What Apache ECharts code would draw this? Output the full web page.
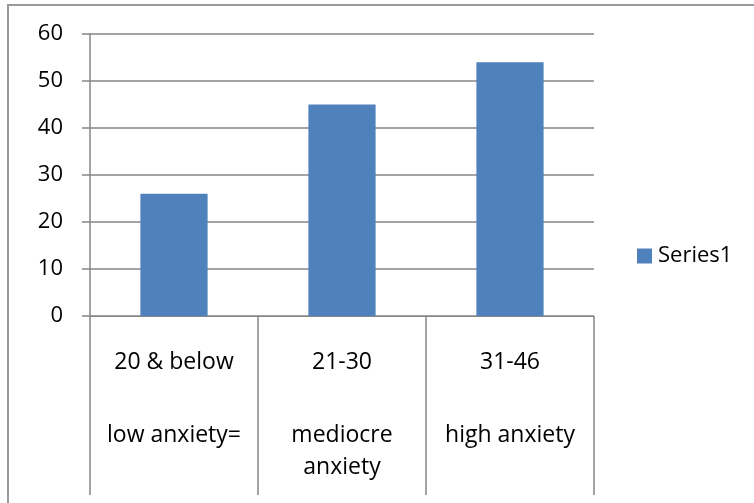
<!DOCTYPE html>
<html>
<head>
<meta charset="utf-8">
<script src="https://cdn.jsdelivr.net/npm/echarts@6/dist/echarts.min.js"></script>
<style>
  html, body { margin: 0; padding: 0; background: #fff; }
  #chart { width: 754px; height: 503px; }
</style>
</head>
<body>
<div id="chart"></div>
<script>
// Anxiety score groups and respondent counts
const rangeLabels = ['20 & below', '21-30', '31-46'];
const levelLabels = ['low anxiety=', 'mediocre\nanxiety', 'high anxiety'];
const counts = [26, 45, 54];
const seriesName = 'Series1';
const yTicks = { min: 0, max: 60, interval: 10 };

const axisGray = '#868686';
const font = 'Open Sans';

const categories = rangeLabels.map((r, i) => r + '||' + levelLabels[i]);

const chart = echarts.init(document.getElementById('chart'), null, { renderer: 'canvas' });

chart.setOption({
  animation: false,
  textStyle: { fontFamily: font, color: '#000' },
  grid: { left: 90, top: 34, right: 160, bottom: 187, containLabel: false },
  legend: {
    data: [seriesName],
    left: 637,
    top: 245,
    padding: 0,
    itemWidth: 15,
    itemHeight: 15,
    icon: 'rect',
    textStyle: { fontFamily: font, fontSize: 22, lineHeight: 22, color: '#000', padding: [0, 0, 0, 1] }
  },
  xAxis: {
    type: 'category',
    data: categories,
    axisLine: { lineStyle: { color: axisGray, width: 1 } },
    axisTick: { show: true, alignWithLabel: false, length: 179, lineStyle: { color: axisGray, width: 1.5 } },
    axisLabel: {
      margin: 21,
      interval: 0,
      verticalAlign: 'top',
      formatter: function (v) {
        const parts = v.split('||');
        const lower = parts[1].split('\n').map(s => '{b|' + s + '}').join('\n');
        return '{a|' + parts[0] + '}\n\n' + lower;
      },
      lineHeight: 32,
      rich: {
        a: { fontFamily: font, fontSize: 23, color: '#000', lineHeight: 50 },
        b: { fontFamily: font, fontSize: 23, color: '#000', lineHeight: 32 }
      }
    },
    splitLine: { show: false }
  },
  yAxis: {
    type: 'value',
    min: yTicks.min,
    max: yTicks.max,
    interval: yTicks.interval,
    axisLine: { show: true, lineStyle: { color: axisGray, width: 1.5 } },
    axisTick: { show: true, inside: false, length: 8, lineStyle: { color: axisGray, width: 1.5 } },
    axisLabel: { margin: 27, fontFamily: font, fontSize: 22, color: '#000' },
    splitLine: { show: true, lineStyle: { color: axisGray, width: 1.5 } }
  },
  series: [{
    name: seriesName,
    type: 'bar',
    data: counts,
    barWidth: '40%',
    itemStyle: { color: '#4F81BD' }
  }],
  graphic: [{
    // chart frame: only its top and left edges fall inside the canvas
    type: 'rect',
    shape: { x: 8, y: 5, width: 900, height: 700 },
    style: { fill: 'none', stroke: '#9a9a9a', lineWidth: 2 },
    silent: true,
    z: 100
  }]
});
</script>
</body>
</html>
